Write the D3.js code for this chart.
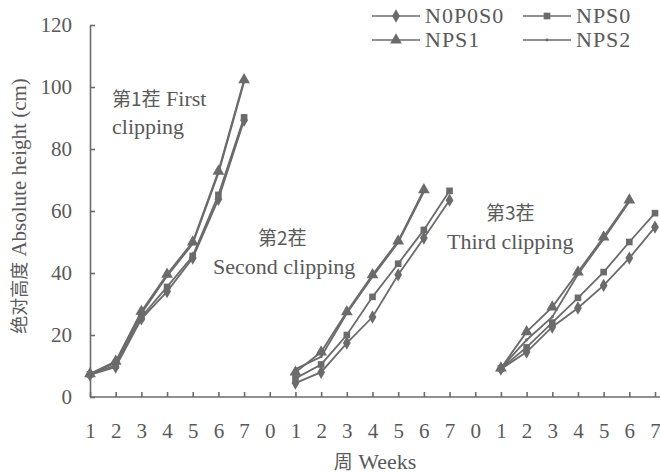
<!DOCTYPE html>
<html lang="en">
<head>
<meta charset="utf-8">
<script src="https://cdn.jsdelivr.net/npm/d3@7"></script>
<style>
  body { margin: 0; background: #fff; }
</style>
</head>
<body>
<svg id="chart" width="660" height="474"></svg>
<script>
// week labels along the x axis (three clippings, separated by a "0")
const weekLabels = ['1', '2', '3', '4', '5', '6', '7', '0',
                    '1', '2', '3', '4', '5', '6', '7', '0',
                    '1', '2', '3', '4', '5', '6', '7'];
const yTicks = [0, 20, 40, 60, 80, 100, 120];

// absolute height (cm); null = gap between clippings
const n0p0s0 = [7.1, 9.7, 25.2, 34, 44.8, 63.8, 89.3, null,
                4.5, 8, 17.4, 25.8, 39.4, 51.3, 63.5, null,
                9, 14.5, 22.6, 28.7, 36, 44.8, 54.8];
const nps0 = [7.3, 10.2, 25.8, 35.5, 45.5, 65.2, 90.2, null,
              6, 10.5, 20, 32.3, 43, 53.9, 66.5, null,
              9.2, 16, 24, 32, 40.3, 50, 59.3];
const nps1 = [7.5, 11.5, 27.6, 39.6, 50, 72.8, 102.3, null,
              8, 14.5, 27.5, 39.4, 50.3, 66.8, null, null,
              9.3, 21, 29, 40.3, 51.6, 63.5, null];
const nps2 = [7.4, 11, 26.9, 39, 49.4, 72.2, 101.6, null,
              9, 13, 27, 38.8, 49.8, 66.2, null, null,
              9.3, 18.4, 25.8, 39.6, 51, 63, null];

const seriesNames = ['N0P0S0', 'NPS0', 'NPS1', 'NPS2'];
const seriesValues = [n0p0s0, nps0, nps1, nps2];
const seriesSymbols = [d3.symbolDiamond, d3.symbolSquare, d3.symbolTriangle, d3.symbolCircle];
const symbolSizes = [52, 44, 60, 7];

// annotation lines: [cjk part, latin part, x, y]
const clipNotes = [
  ['第1茬', ' First', 112, 106],
  ['', 'clipping', 112, 134],
  ['第2茬', '', 258, 245],
  ['', 'Second clipping', 213, 274],
  ['第3茬', '', 486, 220],
  ['', 'Third clipping', 447, 249]
];

const SERIF = '"Liberation Serif", "Times New Roman", serif';
const CJK = '"Noto Sans CJK SC", sans-serif';
const color = '#6b6b6b';
const textColor = '#595959';
const svg = d3.select('#chart');

const x = d3.scalePoint()
  .domain(d3.range(weekLabels.length))
  .range([90, 655])
  .padding(0);

const y = d3.scaleLinear()
  .domain([0, 120])
  .range([397, 25]);

// axes
const xAxis = svg.append('g')
  .attr('transform', 'translate(0,397)')
  .call(d3.axisBottom(x)
    .tickSize(-5)
    .tickSizeOuter(0)
    .tickPadding(26)
    .tickFormat((i) => weekLabels[i]));
xAxis.select('.domain').attr('d', 'M90,0H660');

svg.append('g')
  .attr('transform', 'translate(90,0)')
  .call(d3.axisLeft(y)
    .tickValues(yTicks)
    .tickSize(-5)
    .tickSizeOuter(0)
    .tickPadding(18));

svg.selectAll('.domain, .tick line')
  .attr('stroke', color)
  .attr('stroke-width', 1.6);
svg.selectAll('.tick text')
  .attr('font-family', SERIF)
  .attr('font-size', 21)
  .attr('fill', textColor);

// axis titles
const xt = svg.append('text')
  .attr('x', 375)
  .attr('y', 469)
  .attr('text-anchor', 'middle')
  .attr('font-family', SERIF)
  .attr('font-size', 22)
  .attr('fill', textColor);
xt.append('tspan').attr('font-family', CJK).attr('font-size', 19).text('周');
xt.append('tspan').text(' Weeks');

const yt = svg.append('text')
  .attr('transform', 'translate(26,206) rotate(-90)')
  .attr('text-anchor', 'middle')
  .attr('font-family', SERIF)
  .attr('font-size', 21)
  .attr('fill', textColor);
yt.append('tspan').attr('font-family', CJK).attr('font-size', 18).text('绝对高度');
yt.append('tspan').text(' Absolute height (cm)');

// lines and markers
const line = d3.line()
  .defined((d) => d != null)
  .x((d, i) => x(i))
  .y((d) => y(d));

seriesValues.forEach((vals, k) => {
  svg.append('path')
    .datum(vals)
    .attr('fill', 'none')
    .attr('stroke', color)
    .attr('stroke-width', 1.8)
    .attr('d', line);

  svg.append('g')
    .selectAll('path')
    .data(vals.map((v, i) => ({ v, i })).filter((d) => d.v != null))
    .join('path')
    .attr('transform', (d) => `translate(${x(d.i)},${y(d.v)})`)
    .attr('d', d3.symbol().type(seriesSymbols[k]).size(symbolSizes[k]))
    .attr('fill', color);
});

// clipping annotations
clipNotes.forEach(([cjk, latin, nx, ny]) => {
  const t = svg.append('text')
    .attr('x', nx)
    .attr('y', ny)
    .attr('font-family', SERIF)
    .attr('font-size', 22)
    .attr('fill', textColor);
  if (cjk) t.append('tspan').attr('font-family', CJK).attr('font-size', 19).text(cjk);
  if (latin) t.append('tspan').text(latin);
});

// legend
const legend = svg.append('g');
seriesNames.forEach((name, k) => {
  const lx = 372 + (k % 2) * 151;
  const ly = 16 + Math.floor(k / 2) * 24;
  const g = legend.append('g').attr('transform', `translate(${lx},${ly})`);
  g.append('line')
    .attr('x1', 0).attr('x2', 48)
    .attr('stroke', color)
    .attr('stroke-width', 1.7);
  g.append('path')
    .attr('transform', 'translate(24,0)')
    .attr('d', d3.symbol().type(seriesSymbols[k]).size(symbolSizes[k]))
    .attr('fill', color);
  g.append('text')
    .attr('x', 53)
    .attr('y', 7)
    .attr('font-family', SERIF)
    .attr('font-size', 22)
    .attr('letter-spacing', 1)
    .attr('fill', textColor)
    .text(name);
});
</script>
</body>
</html>
